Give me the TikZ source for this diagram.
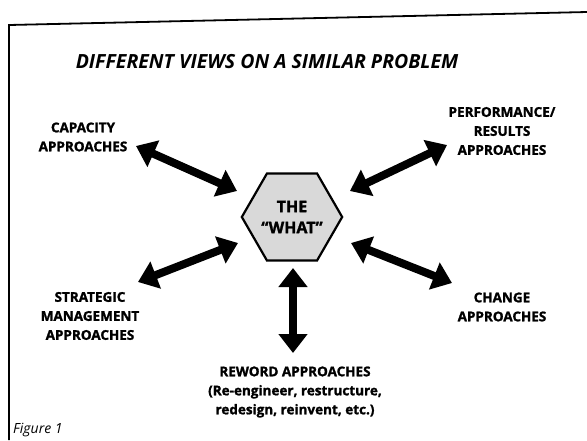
\documentclass[tikz,border=0pt]{standalone}
\usepackage{fontspec}
\setmainfont{Open Sans}[BoldFeatures={FakeBold=1.5}]
\usetikzlibrary{shapes.geometric,arrows.meta}

\tikzset{
  etiqueta/.style={font=\bfseries\fontsize{13.5}{19}\selectfont, align=center, inner sep=0pt},
  flecha/.style={line width=8pt, {Triangle[width=28pt,length=19pt]}-{Triangle[width=28pt,length=19pt]}},
}

\begin{document}
\begin{tikzpicture}[x=1pt,y=-1pt]
    \useasboundingbox (0,0) rectangle (587,440);

    % Marco
    \draw[line width=1.8pt] (9,440) -- (9,25) -- (587,12);

    % Título
    \node[font=\bfseries\itshape\fontsize{19.5}{22}\selectfont, inner sep=0pt] (titulo) at (267,62) {DIFFERENT VIEWS ON A SIMILAR PROBLEM};

    % Hexágono central
    \node[regular polygon, regular polygon sides=6, minimum size=100pt, inner sep=0pt,
          draw, line width=2.2pt, fill=gray!30, align=center,
          font=\bfseries\fontsize{16}{21}\selectfont] (what) at (292,217) {THE\\``WHAT''};

    % Etiquetas de los enfoques
    \node[etiqueta] (capacidad) at (83,137) {CAPACITY\\APPROACHES};
    \node[etiqueta] (desempeno) at (502,131) {PERFORMANCE/\\RESULTS\\APPROACHES};
    \node[etiqueta] (estrategia) at (90,316) {STRATEGIC\\MANAGEMENT\\APPROACHES};
    \node[etiqueta] (cambio) at (502,307) {CHANGE\\APPROACHES};
    \node[etiqueta] (rediseno) at (295,392) {REWORD APPROACHES\\(Re-engineer, restructure,\\redesign, reinvent, etc.)};

    % Extremos de las flechas
    \coordinate (capA) at (136,146);
    \coordinate (capB) at (237,191);
    \coordinate (desA) at (447,145);
    \coordinate (desB) at (350,191);
    \coordinate (estA) at (138,282);
    \coordinate (estB) at (238,243);
    \coordinate (camA) at (452,283);
    \coordinate (camB) at (351,243);
    \coordinate (redA) at (293,353);
    \coordinate (redB) at (293,268);

    % Flechas dobles
    \draw[flecha] (capA) -- (capB);
    \draw[flecha] (desA) -- (desB);
    \draw[flecha] (estA) -- (estB);
    \draw[flecha] (camA) -- (camB);
    \draw[flecha] (redA) -- (redB);

    % Pie de figura
    \node[font=\itshape\fontsize{14}{16}\selectfont, anchor=west, inner sep=0pt] (pie) at (13,430) {Figure 1};
\end{tikzpicture}
\end{document}
